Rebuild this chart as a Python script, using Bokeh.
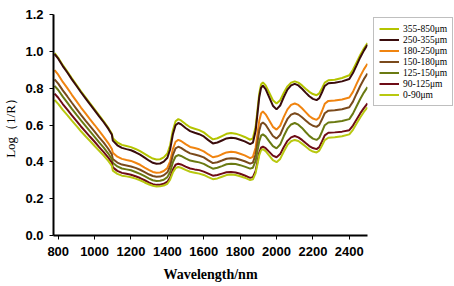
from bokeh.plotting import figure
from bokeh.layouts import row
from bokeh.models import Range1d, Legend, LegendItem, SingleIntervalTicker, NumeralTickFormatter
from bokeh.embed import file_html
from bokeh.resources import INLINE

wavelength = [780, 800, 825, 850, 875, 900, 925, 950, 975, 1000, 1025, 1050, 1075, 1095,
              1100, 1125, 1150, 1175, 1200, 1225, 1250, 1275, 1300, 1320, 1340,
              1360, 1380, 1400, 1415, 1430, 1445, 1460,
              1475, 1500, 1525, 1550, 1575, 1600, 1625, 1650,
              1675, 1700, 1725, 1750,
              1775, 1800, 1825, 1855,
              1870, 1885, 1895, 1905, 1915, 1925,
              1940, 1960, 1980, 2000,
              2020, 2040, 2060, 2080, 2100,
              2120, 2140, 2160, 2180, 2200, 2220,
              2235, 2250, 2265, 2285,
              2320, 2360, 2400,
              2420, 2440, 2460, 2480, 2500]

s355_850 = [0.99, 0.965, 0.925, 0.89, 0.853, 0.818, 0.783, 0.75, 0.717, 0.685, 0.652, 0.62, 0.585, 0.552,
            0.528, 0.505, 0.492, 0.486, 0.48, 0.47, 0.458, 0.443, 0.428, 0.418, 0.413,
            0.414, 0.424, 0.445, 0.49, 0.57, 0.62, 0.632,
            0.625, 0.605, 0.588, 0.58, 0.572, 0.56, 0.54, 0.522,
            0.528, 0.54, 0.552, 0.556,
            0.553, 0.545, 0.535, 0.52,
            0.528, 0.59, 0.68, 0.77, 0.82, 0.832,
            0.815, 0.775, 0.735, 0.717,
            0.735, 0.775, 0.81, 0.83, 0.837,
            0.83, 0.815, 0.797, 0.78, 0.768, 0.762,
            0.772, 0.8, 0.83, 0.843,
            0.846, 0.855, 0.87,
            0.9, 0.94, 0.98, 1.015, 1.045]
s250_355 = [0.985, 0.96, 0.92, 0.885, 0.848, 0.813, 0.778, 0.745, 0.712, 0.68, 0.647, 0.615, 0.58, 0.547,
            0.515, 0.49, 0.476, 0.469, 0.463, 0.452, 0.439, 0.423, 0.406, 0.395, 0.39,
            0.391, 0.401, 0.422, 0.467, 0.548, 0.599, 0.611,
            0.604, 0.584, 0.567, 0.558, 0.55, 0.538, 0.518, 0.50,
            0.505, 0.516, 0.527, 0.531,
            0.528, 0.52, 0.511, 0.496,
            0.504, 0.567, 0.659, 0.751, 0.802, 0.814,
            0.795, 0.75, 0.705, 0.685,
            0.706, 0.752, 0.792, 0.815, 0.823,
            0.815, 0.797, 0.776, 0.756, 0.742, 0.735,
            0.746, 0.778, 0.812, 0.827,
            0.83, 0.837, 0.85,
            0.882, 0.924, 0.967, 1.004, 1.036]
s180_250 = [0.898, 0.873, 0.834, 0.80, 0.764, 0.73, 0.695, 0.663, 0.631, 0.60, 0.568, 0.536, 0.502, 0.47,
            0.45, 0.428, 0.416, 0.41, 0.405, 0.395, 0.384, 0.369, 0.355, 0.345, 0.341,
            0.342, 0.35, 0.367, 0.403, 0.469, 0.509, 0.519,
            0.513, 0.496, 0.481, 0.475, 0.468, 0.457, 0.44, 0.425,
            0.43, 0.441, 0.451, 0.455,
            0.452, 0.444, 0.435, 0.42,
            0.427, 0.477, 0.55, 0.623, 0.663, 0.673,
            0.658, 0.624, 0.59, 0.575,
            0.596, 0.644, 0.685, 0.709, 0.717,
            0.709, 0.691, 0.670, 0.649, 0.635, 0.628,
            0.641, 0.676, 0.715, 0.731,
            0.733, 0.739, 0.749,
            0.78, 0.823, 0.865, 0.902, 0.933]
s150_180 = [0.848, 0.825, 0.788, 0.755, 0.721, 0.688, 0.655, 0.624, 0.594, 0.564, 0.533, 0.504, 0.471, 0.44,
            0.415, 0.396, 0.385, 0.38, 0.375, 0.367, 0.357, 0.344, 0.331, 0.323, 0.319,
            0.32, 0.327, 0.343, 0.376, 0.436, 0.473, 0.482,
            0.476, 0.46, 0.446, 0.44, 0.433, 0.424, 0.408, 0.393,
            0.398, 0.407, 0.417, 0.42,
            0.418, 0.411, 0.403, 0.39,
            0.396, 0.44, 0.505, 0.569, 0.605, 0.614,
            0.601, 0.57, 0.54, 0.526,
            0.547, 0.593, 0.633, 0.656, 0.664,
            0.657, 0.642, 0.625, 0.608, 0.596, 0.59,
            0.601, 0.631, 0.664, 0.678,
            0.68, 0.686, 0.696,
            0.727, 0.77, 0.812, 0.849, 0.88]
s125_150 = [0.813, 0.79, 0.754, 0.722, 0.688, 0.656, 0.625, 0.595, 0.565, 0.536, 0.506, 0.477, 0.445, 0.415,
            0.395, 0.375, 0.364, 0.359, 0.354, 0.345, 0.335, 0.322, 0.309, 0.30, 0.296,
            0.297, 0.303, 0.317, 0.345, 0.397, 0.429, 0.437,
            0.432, 0.419, 0.407, 0.402, 0.397, 0.389, 0.375, 0.363,
            0.368, 0.377, 0.387, 0.39,
            0.388, 0.382, 0.374, 0.363,
            0.368, 0.405, 0.458, 0.512, 0.542, 0.549,
            0.538, 0.511, 0.485, 0.473,
            0.494, 0.54, 0.58, 0.603, 0.611,
            0.602, 0.584, 0.562, 0.541, 0.526, 0.519,
            0.531, 0.564, 0.599, 0.614,
            0.616, 0.622, 0.632,
            0.662, 0.702, 0.741, 0.776, 0.806]
s90_125 = [0.77, 0.748, 0.714, 0.684, 0.652, 0.622, 0.592, 0.564, 0.536, 0.509, 0.48, 0.453, 0.423, 0.395,
           0.37, 0.351, 0.34, 0.335, 0.33, 0.322, 0.312, 0.30, 0.287, 0.279, 0.275,
           0.276, 0.281, 0.292, 0.315, 0.357, 0.384, 0.39,
           0.386, 0.374, 0.364, 0.359, 0.355, 0.347, 0.336, 0.325,
           0.329, 0.336, 0.343, 0.345,
           0.342, 0.335, 0.326, 0.313,
           0.317, 0.351, 0.40, 0.449, 0.477, 0.483,
           0.474, 0.454, 0.434, 0.425,
           0.442, 0.481, 0.514, 0.533, 0.54,
           0.533, 0.519, 0.502, 0.486, 0.475, 0.469,
           0.48, 0.511, 0.544, 0.558,
           0.56, 0.564, 0.572,
           0.597, 0.63, 0.663, 0.692, 0.717]
s0_90 = [0.736, 0.715, 0.682, 0.654, 0.624, 0.595, 0.566, 0.539, 0.513, 0.486, 0.46, 0.434, 0.405, 0.378,
         0.352, 0.335, 0.325, 0.321, 0.316, 0.309, 0.30, 0.288, 0.277, 0.27, 0.266,
         0.267, 0.271, 0.281, 0.303, 0.342, 0.366, 0.372,
         0.368, 0.356, 0.346, 0.341, 0.336, 0.329, 0.317, 0.306,
         0.31, 0.319, 0.328, 0.331,
         0.329, 0.322, 0.314, 0.301,
         0.305, 0.339, 0.387, 0.436, 0.463, 0.469,
         0.458, 0.434, 0.409, 0.398,
         0.416, 0.456, 0.492, 0.512, 0.519,
         0.513, 0.499, 0.483, 0.467, 0.456, 0.451,
         0.461, 0.489, 0.518, 0.531,
         0.533, 0.539, 0.549,
         0.574, 0.608, 0.641, 0.671, 0.696]

labels = ["355-850\u03bcm", "250-355\u03bcm", "180-250\u03bcm", "150-180\u03bcm",
          "125-150\u03bcm", "90-125\u03bcm", "0-90\u03bcm"]
series = [s355_850, s250_355, s180_250, s150_180, s125_150, s90_125, s0_90]
colors = ["#b4c400", "#3a0c0c", "#f08410", "#7a4a1c", "#6a7a12", "#6e0c16", "#b8c810"]

# main plot
p = figure(width=370, height=286, output_backend="svg", toolbar_location=None,
           x_range=Range1d(774, 2500), y_range=Range1d(0, 1.2001),
           min_border_left=53, min_border_right=3, min_border_top=11, min_border_bottom=51)
p.outline_line_color = None
p.xgrid.visible = False
p.ygrid.visible = False

for ys, c in zip(series, colors):
    p.line(wavelength, ys, line_color=c, line_width=2)

for ax in (p.xaxis[0], p.yaxis[0]):
    ax.axis_line_width = 2
    ax.axis_line_color = "black"
    ax.major_tick_line_color = "black"
    ax.major_tick_line_width = 1
    ax.major_tick_in = 0
    ax.major_tick_out = 4
    ax.minor_tick_line_color = None
    ax.major_label_text_font = "Liberation Sans"
    ax.major_label_text_font_style = "bold"
    ax.major_label_text_font_size = "13px"
    ax.major_label_text_color = "black"
    ax.axis_label_text_color = "black"

p.xaxis[0].ticker = SingleIntervalTicker(interval=200)
p.yaxis[0].ticker = SingleIntervalTicker(interval=0.2)
p.yaxis[0].formatter = NumeralTickFormatter(format="0.0")

p.xaxis[0].axis_label = "Wavelength/nm"
p.xaxis[0].axis_label_text_font = "Liberation Serif"
p.xaxis[0].axis_label_text_font_style = "bold"
p.xaxis[0].axis_label_text_font_size = "14px"
p.xaxis[0].axis_label_standoff = 8
p.xaxis[0].major_label_standoff = 7

p.yaxis[0].axis_label = "Log\uff081/R\uff09"
p.yaxis[0].axis_label_text_font = "Liberation Serif"
p.yaxis[0].axis_label_text_font_style = "normal"
p.yaxis[0].axis_label_text_font_size = "13px"
p.yaxis[0].axis_label_standoff = 4
p.yaxis[0].major_label_standoff = 6

# legend panel (key swatches only)
pl = figure(width=84, height=286, output_backend="svg", toolbar_location=None,
            x_range=Range1d(0, 1), y_range=Range1d(0, 1),
            min_border_left=0, min_border_right=0, min_border_top=14, min_border_bottom=0)
pl.outline_line_color = None
pl.xaxis.visible = False
pl.yaxis.visible = False
pl.xgrid.visible = False
pl.ygrid.visible = False

nan = float("nan")
items = []
for lab, c in zip(labels, colors):
    r = pl.line([nan], [nan], line_color=c, line_width=2)
    items.append(LegendItem(label=lab, renderers=[r]))

legend = Legend(items=items, location="top_left")
legend.label_text_font = "Liberation Serif"
legend.label_text_font_size = "9.5px"
legend.label_text_color = "black"
legend.glyph_width = 20
legend.glyph_height = 11
legend.label_height = 11
legend.spacing = 0
legend.padding = 5
legend.label_standoff = 4
legend.margin = 3
legend.border_line_color = "#808080"
legend.border_line_width = 1
legend.background_fill_alpha = 1
pl.add_layout(legend, "center")

layout = row(p, pl)
open("out.html", "w").write(file_html(layout, INLINE))
